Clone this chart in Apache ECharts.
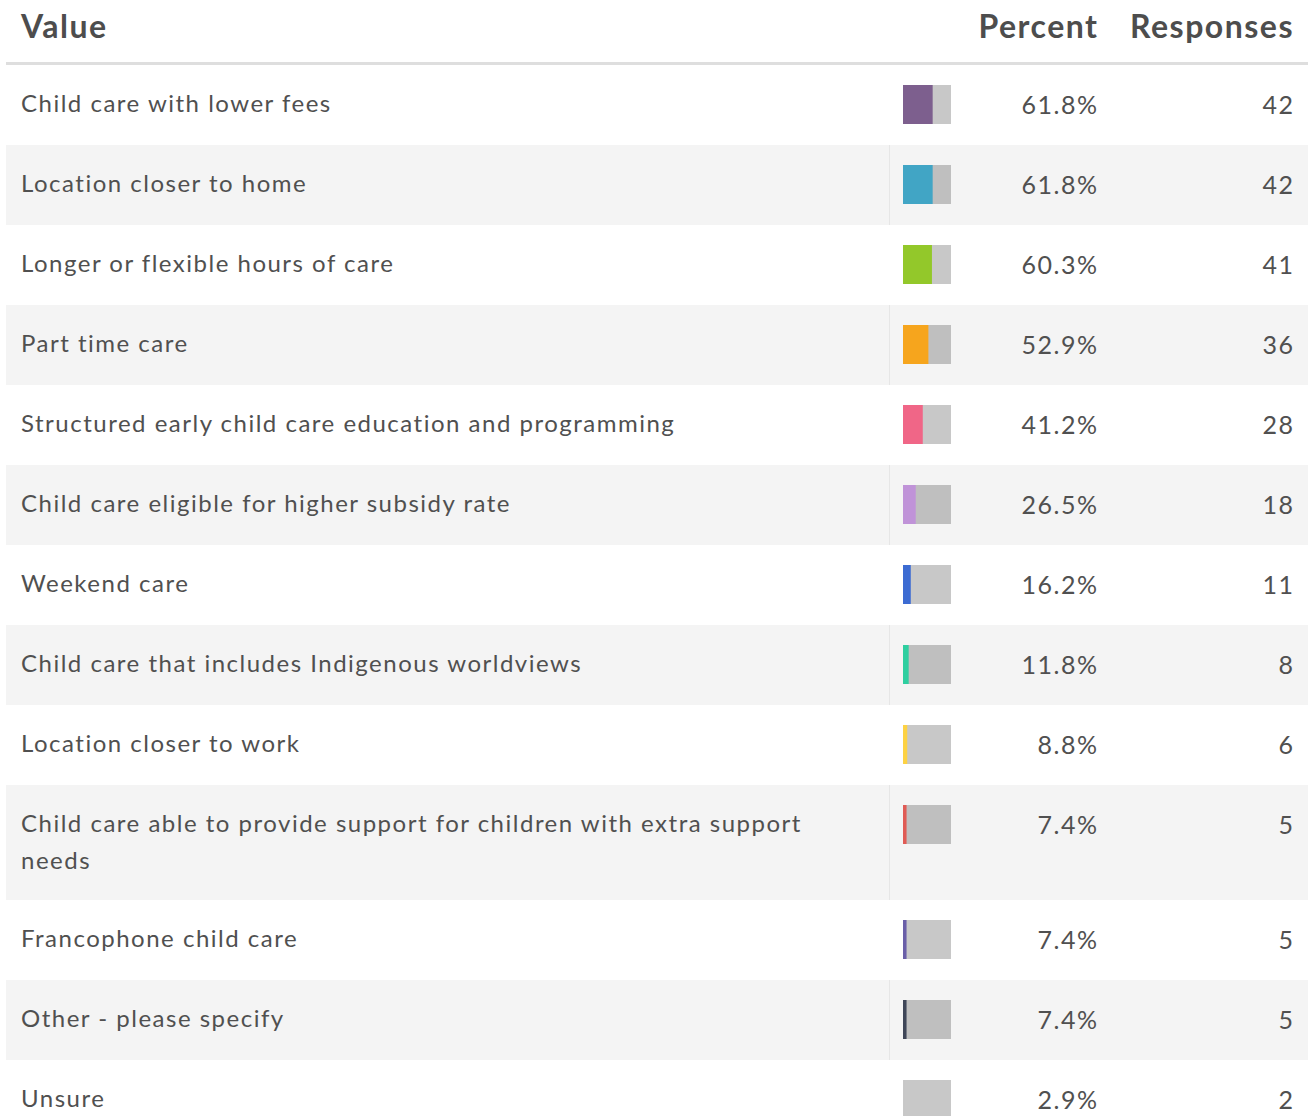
<!DOCTYPE html>
<html>
<head>
<meta charset="utf-8">
<script src="https://cdn.jsdelivr.net/npm/echarts@6/dist/echarts.min.js"></script>
<style>
html,body{margin:0;padding:0;background:#fff;}
#chart{width:1308px;height:1116px;}
#chart svg text{letter-spacing:1.5px;}
</style>
</head>
<body>
<div id="chart"></div>
<script>
const headers = ['Value', 'Percent', 'Responses'];
const labels = [
  'Child care with lower fees',
  'Location closer to home',
  'Longer or flexible hours of care',
  'Part time care',
  'Structured early child care education and programming',
  'Child care eligible for higher subsidy rate',
  'Weekend care',
  'Child care that includes Indigenous worldviews',
  'Location closer to work',
  'Child care able to provide support for children with extra support needs',
  'Francophone child care',
  'Other - please specify',
  'Unsure'
];
const percents = [61.8, 61.8, 60.3, 52.9, 41.2, 26.5, 16.2, 11.8, 8.8, 7.4, 7.4, 7.4, 2.9];
const responses = [42, 42, 41, 36, 28, 18, 11, 8, 6, 5, 5, 5, 2];
const colors = ['#7d5f8e', '#41a5c5', '#93c82a', '#f6a51d', '#f06687', '#c093d8',
  '#3c6bd2', '#2ecfa0', '#fdd243', '#e05b55', '#6a5fa8', '#3f4658', '#c8c8c8'];

const FONT = 'Lato, "Noto Sans", sans-serif';
const LABEL_SIZE = 24;
const NUM_SIZE = 25;
const SPACING = 1.5;
const WRAP_W = 840;
const ROW_H = 80;
const LINE_H = 37;

// wrap labels (accounting for letter spacing)
const cv = document.createElement('canvas').getContext('2d');
cv.font = LABEL_SIZE + 'px ' + FONT;
function textW(t) { return cv.measureText(t).width + t.length * SPACING; }
function wrap(t) {
  const words = t.split(' ');
  const lines = [];
  let cur = '';
  for (const w of words) {
    const test = cur ? cur + ' ' + w : w;
    if (textW(test) > WRAP_W && cur) { lines.push(cur); cur = w; } else cur = test;
  }
  lines.push(cur);
  return lines;
}
const wrapped = labels.map(wrap);

// build data: [index, rowTop, rowHeight, percent]
let acc = 0;
const rows = labels.map((l, i) => {
  const h = ROW_H + (wrapped[i].length - 1) * (LINE_H - 2);
  const r = [i, acc, h, percents[i]];
  acc += h;
  return r;
});

const chart = echarts.init(document.getElementById('chart'), null, {renderer: 'svg'});
const TOP = 65;
chart.setOption({
  animation: false,
  backgroundColor: '#fff',
  grid: {left: 903, right: 1308 - 951, top: TOP, bottom: 0},
  xAxis: {type: 'value', min: 0, max: 100, show: false},
  yAxis: {type: 'value', inverse: true, min: 0, max: 1116 - TOP, show: false},
  graphic: [
    {type: 'rect', shape: {x: 6, y: 62, width: 1302, height: 3}, style: {fill: '#dedede'}, silent: true},
    {type: 'text', x: 21, y: 25, style: {text: headers[0], font: 'bold 32px ' + FONT, fill: '#4d4d4d', verticalAlign: 'middle', align: 'left'}},
    {type: 'text', x: 1098.5, y: 25, style: {text: headers[1], font: 'bold 32px ' + FONT, fill: '#4d4d4d', verticalAlign: 'middle', align: 'right'}},
    {type: 'text', x: 1294, y: 25, style: {text: headers[2], font: 'bold 32px ' + FONT, fill: '#4d4d4d', verticalAlign: 'middle', align: 'right'}}
  ],
  series: [{
    type: 'custom',
    clip: false,
    data: rows,
    renderItem: function (params, api) {
      const i = api.value(0), top = api.value(1), h = api.value(2), pct = api.value(3);
      const y0 = api.coord([0, top])[1];
      const y1 = api.coord([0, top + h])[1];
      const x0 = api.coord([0, 0])[0];
      const x100 = api.coord([100, 0])[0];
      const xp = api.coord([pct, 0])[0];
      const ch = [];
      if (i % 2 === 1) {
        ch.push({type: 'rect', shape: {x: 6, y: y0, width: 1302, height: y1 - y0}, style: {fill: '#f4f4f4'}});
        ch.push({type: 'rect', shape: {x: 889, y: y0, width: 1, height: y1 - y0}, style: {fill: '#e6e6e6'}});
      }
      ch.push({type: 'rect', shape: {x: x0, y: y0 + 20, width: x100 - x0, height: 39}, style: {fill: 'rgba(0,0,0,0.215)'}});
      ch.push({type: 'rect', shape: {x: x0, y: y0 + 20, width: xp - x0, height: 39}, style: {fill: colors[i]}});
      wrapped[i].forEach(function (line, k) {
        ch.push({type: 'text', x: 21, y: y0 + 37.5 + k * LINE_H, style: {
          text: line, font: LABEL_SIZE + 'px ' + FONT, fill: '#505050', verticalAlign: 'middle', align: 'left'}});
      });
      ch.push({type: 'text', x: 1098.5, y: y0 + 38.5, style: {
        text: pct.toFixed(1) + '%', font: NUM_SIZE + 'px ' + FONT, fill: '#505050', verticalAlign: 'middle', align: 'right'}});
      ch.push({type: 'text', x: 1294.5, y: y0 + 38.5, style: {
        text: String(responses[i]), font: NUM_SIZE + 'px ' + FONT, fill: '#505050', verticalAlign: 'middle', align: 'right'}});
      return {type: 'group', children: ch};
    }
  }]
});
</script>
</body>
</html>
